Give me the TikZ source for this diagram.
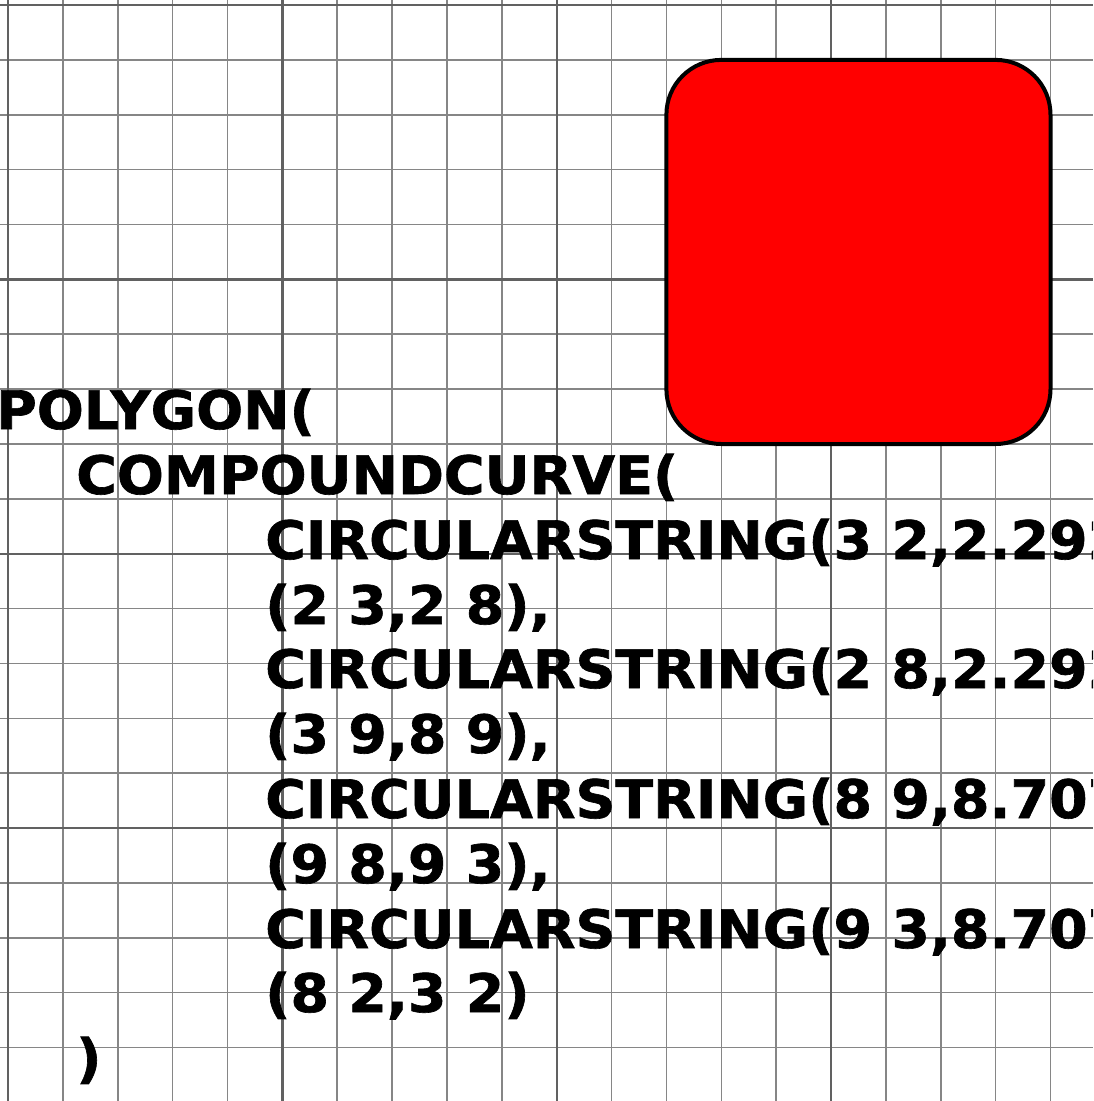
\documentclass[tikz,border=0pt]{standalone}
\usepackage{fontspec}
\setmainfont{DejaVu Sans}[BoldFeatures={FakeStretch=1.045,FakeBold=1.2}]
\begin{document}
\begin{tikzpicture}[x=1pt,y=-1pt,
  minorline/.style={draw=gray!95,line width=1.6pt},
  majorline/.style={draw=black!62,line width=2.4pt},
  wkt/.style={anchor=base west,inner sep=0pt,font=\fontsize{53}{53}\selectfont\bfseries,text=black},
  shapefill/.style={fill=red,draw=black,line width=4pt}]
\useasboundingbox (0,0) rectangle (1093,1101);
\clip (0,0) rectangle (1093,1101);
\fill[white] (0,0) rectangle (1093,1101);
\def\cell{54.87}
% grid
\foreach \k in {0,...,20}{
  \pgfmathsetmacro\p{8+\k*\cell}
  \draw[minorline] (\p,0) -- (\p,1101);
  \pgfmathsetmacro\q{5+\k*\cell}
  \draw[minorline] (0,\q) -- (1093,\q);
}
\foreach \k in {0,5,10,15,20}{
  \pgfmathsetmacro\p{8+\k*\cell}
  \draw[majorline] (\p,0) -- (\p,1101);
  \pgfmathsetmacro\q{5+\k*\cell}
  \draw[majorline] (0,\q) -- (1093,\q);
}
% red rounded square
\draw[shapefill,rounded corners=54.87pt] (666.4,59.9) rectangle (1050.5,444.0);
% text
\node[wkt] (l0) at (-4,429) {POLYGON(};
\node[wkt] (l1) at (76,494) {COMPOUNDCURVE(};
\node[wkt] (l2) at (265,559) {CIRCULARSTRING(3 2,2.29289321881345 2.29289321881345,2 3),};
\node[wkt] (l3) at (265,624) {(2 3,2 8),};
\node[wkt] (l4) at (265,688) {CIRCULARSTRING(2 8,2.29289321881345 8.70710678118655,3 9),};
\node[wkt] (l5) at (265,753) {(3 9,8 9),};
\node[wkt] (l6) at (265,818) {CIRCULARSTRING(8 9,8.70710678118655 8.70710678118655,9 8),};
\node[wkt] (l7) at (265,883) {(9 8,9 3),};
\node[wkt] (l8) at (265,948) {CIRCULARSTRING(9 3,8.70710678118655 2.29289321881345,8 2),};
\node[wkt] (l9) at (265,1012) {(8 2,3 2)};
\node[wkt] (l10) at (76,1077) {)};
\end{tikzpicture}
\end{document}
